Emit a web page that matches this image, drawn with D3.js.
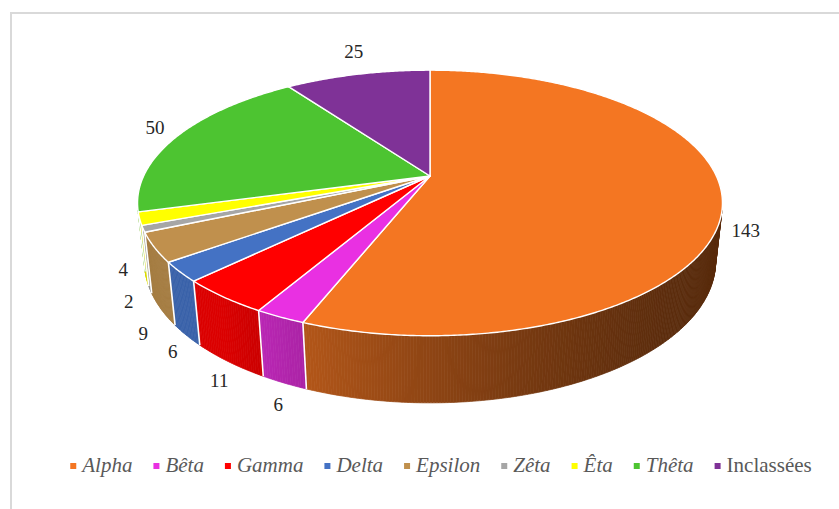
<!DOCTYPE html>
<html>
<head>
<meta charset="utf-8">
<script src="https://cdn.jsdelivr.net/npm/d3@7"></script>
<style>
  html, body { margin: 0; padding: 0; background: #fff; }
  svg { display: block; }
  .serif { font-family: "Liberation Serif", "Times New Roman", Tinos, "Nimbus Roman", "DejaVu Serif", serif; }
</style>
</head>
<body>
<svg id="chart" width="839" height="509"></svg>
<script>
// Category names, counts and slice colours
const categories = ["Alpha", "Bêta", "Gamma", "Delta", "Epsilon", "Zêta", "Êta", "Thêta", "Inclassées"];
const values = [143, 6, 11, 6, 9, 2, 4, 50, 25];
const sliceColors = ["#F47622", "#E930E2", "#FF0000", "#4472C4", "#C0904D", "#A6A6A6", "#FFFF00", "#4DC431", "#7F3297"];
const italicLegend = [true, true, true, true, true, true, true, true, false];

const W = 839, H = 509;
const svg = d3.select("#chart");

// Chart frame (light grey border running off the right and bottom)
svg.append("rect")
  .attr("x", 11).attr("y", 13)
  .attr("width", W + 20).attr("height", H + 20)
  .attr("fill", "#fff")
  .attr("stroke", "#D9D9D9")
  .attr("stroke-width", 2);

// Perspective camera for the 3D pie: unit disc, tilted toward the viewer
const cam = {
  cx: 430, cy: 176,          // screen position of the pie centre (top face)
  focal: 1264,
  dist: 4.414,
  tilt: 26.4 * Math.PI / 180,
  depth: 0.229               // thickness of the pie, in disc radii
};
const sinT = Math.sin(cam.tilt), cosT = Math.cos(cam.tilt);

// phi: angle clockwise from the far point (12 o'clock), z: height (0 = top face)
function project(r, phi, z) {
  const x = r * Math.sin(phi), y = r * Math.cos(phi);
  const fwd = y * cosT - z * sinT;
  const up = y * sinT + z * cosT;
  const d = cam.dist + fwd;
  return [cam.cx + cam.focal * x / d, cam.cy - cam.focal * up / d];
}

const pie = d3.pie().sort(null).value(d => d).startAngle(0).endAngle(2 * Math.PI);
const arcs = pie(values).map((a, i) => ({ ...a, i, color: sliceColors[i], name: categories[i] }));

// The outer wall is visible only where its normal faces the camera
const visLimit = Math.acos(-1 / (cam.dist * cosT));
const visStart = visLimit, visEnd = 2 * Math.PI - visLimit;

// Wall lighting: brighter toward the front-left, darker toward the right
function wallShade(color, phi) {
  const k = Math.max(0.36, Math.min(0.86, 0.8 + 0.436 * Math.cos(phi - 300 * Math.PI / 180)));
  const c = d3.rgb(color);
  return d3.rgb(c.r * k, c.g * k, c.b * k).formatHex();
}

const step = 0.5 * Math.PI / 180;
const gWalls = svg.append("g");
const gTops = svg.append("g");
const gLabels = svg.append("g");

arcs.forEach(a => {
  const a0 = Math.max(a.startAngle, visStart), a1 = Math.min(a.endAngle, visEnd);
  if (a0 >= a1) return;
  const n = Math.max(1, Math.ceil((a1 - a0) / step));
  for (let k = 0; k < n; k++) {
    const p0 = a0 + (a1 - a0) * k / n, p1 = a0 + (a1 - a0) * (k + 1) / n;
    const pts = [project(1, p0, 0), project(1, p1, 0), project(1, p1, -cam.depth), project(1, p0, -cam.depth)];
    const fill = wallShade(a.color, (p0 + p1) / 2);
    gWalls.append("path")
      .attr("d", d3.line()(pts) + "Z")
      .attr("fill", fill)
      .attr("stroke", fill)
      .attr("stroke-width", 0.7);
  }
});

// White seams between walls of neighbouring slices
arcs.forEach(a => {
  const phi = a.startAngle;
  if (phi > visStart && phi < visEnd) {
    const t = project(1, phi, 0), b = project(1, phi, -cam.depth);
    gWalls.append("line")
      .attr("x1", t[0]).attr("y1", t[1]).attr("x2", b[0]).attr("y2", b[1])
      .attr("stroke", "#fff").attr("stroke-width", 1.6);
  }
});

// Top faces
arcs.forEach(a => {
  const n = Math.max(2, Math.ceil((a.endAngle - a.startAngle) / step));
  const pts = [project(0, 0, 0)];
  for (let k = 0; k <= n; k++) {
    pts.push(project(1, a.startAngle + (a.endAngle - a.startAngle) * k / n, 0));
  }
  gTops.append("path")
    .attr("d", d3.line()(pts) + "Z")
    .attr("fill", a.color)
    .attr("stroke", "#fff")
    .attr("stroke-width", 1.4)
    .attr("stroke-linejoin", "round");
});

// Data labels outside each slice, anchored on the rim at the slice's mid angle
const labels = arcs.map(a => {
  const phi = (a.startAngle + a.endAngle) / 2;
  const c = Math.cos(phi), s = Math.sin(phi);
  const w = Math.max(0, Math.min(1, -4 * c - 0.3));
  const anchor = project(1, phi, -cam.depth * w);
  const ox = 30 - 18 * Math.abs(c);
  return { text: String(a.value), x: anchor[0] + ox * s, y: anchor[1] - 24 * c };
});

// Push apart labels that would overlap
const minGap = 32;
for (let iter = 0; iter < 120; iter++) {
  for (let i = 0; i < labels.length; i++) {
    for (let j = i + 1; j < labels.length; j++) {
      const A = labels[i], B = labels[j];
      const dx = Math.abs(A.x - B.x), dy = B.y - A.y;
      const minDx = 9.5 * (A.text.length + B.text.length) + 4;
      if (dx < minDx && Math.abs(dy) < minGap) {
        const push = (minGap - Math.abs(dy)) / 2 + 0.05;
        const sgn = dy >= 0 ? 1 : -1;
        A.y -= sgn * push; B.y += sgn * push;
      }
    }
  }
}

gLabels.selectAll("text").data(labels).join("text")
  .attr("class", "serif")
  .attr("x", d => d.x).attr("y", d => d.y)
  .attr("text-anchor", "middle")
  .attr("dominant-baseline", "central")
  .attr("font-size", 19)
  .attr("fill", "#262626")
  .text(d => d.text);

// Legend
const legend = svg.append("g");
const legendY = 472, markerSize = 6, markerGap = 6, itemGap = 21;
const items = categories.map((name, i) => {
  const g = legend.append("g");
  g.append("rect").attr("width", markerSize).attr("height", markerSize)
    .attr("y", legendY - 9).attr("fill", sliceColors[i]);
  const t = g.append("text")
    .attr("class", "serif")
    .attr("x", markerSize + markerGap).attr("y", legendY)
    .attr("font-size", 21)
    .attr("font-style", italicLegend[i] ? "italic" : "normal")
    .attr("fill", "#595959")
    .text(name);
  return { g, width: markerSize + markerGap + t.node().getComputedTextLength() };
});
const total = d3.sum(items, d => d.width) + itemGap * (items.length - 1);
let lx = 441 - total / 2;
items.forEach(it => { it.g.attr("transform", `translate(${lx},0)`); lx += it.width + itemGap; });
</script>
</body>
</html>
